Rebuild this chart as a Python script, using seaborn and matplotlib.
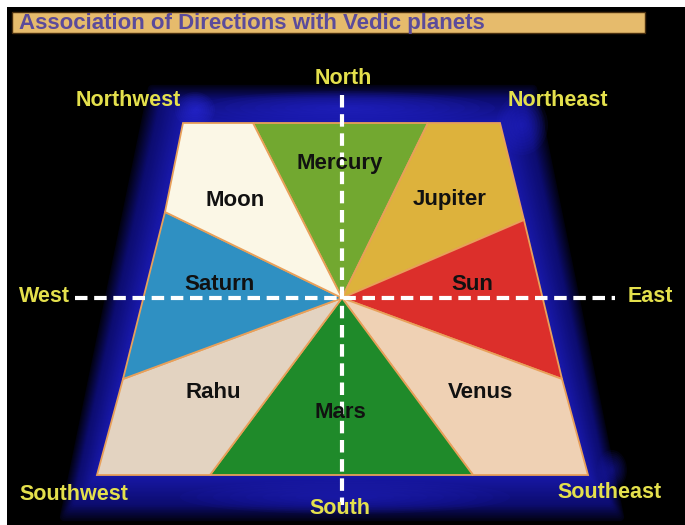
import numpy as np
import seaborn as sns
import matplotlib.pyplot as plt
from matplotlib.patches import Polygon, Rectangle, Ellipse
from matplotlib.colors import to_rgb

# Planets and the colour of the sector each one rules
planets = ["Mercury", "Jupiter", "Sun", "Venus", "Mars", "Rahu", "Saturn", "Moon"]
planet_colors = ["#72A830", "#DDB23C", "#DC2F2B", "#EFD1B4",
                 "#1F8A2A", "#E3D3C1", "#2F90C2", "#FBF7E6"]

directions = ["North", "Northeast", "East", "Southeast",
              "South", "Southwest", "West", "Northwest"]

title = "Association of Directions with Vedic planets"

# Geometry of the diagram (pixel-like coordinates, y grows downward)
centre = (342, 298)
ring_x = [183, 253, 428, 500, 524, 562, 588, 473, 210, 97, 123, 165]
ring_y = [123, 123, 123, 123, 220, 379, 475, 475, 475, 475, 379, 212]
sector_idx = [[1, 2], [2, 3, 4], [4, 5], [5, 6, 7], [7, 8], [8, 9, 10], [10, 11], [11, 0, 1]]
planet_x = [340, 450, 472, 480, 340, 213, 219, 235]
planet_y = [163, 200, 284, 392, 412, 392, 284, 200]
dir_x = [343, 558, 650, 609, 340, 74, 44, 128]
dir_y = [79, 100, 297, 493, 508, 495, 297, 100]

frame_x = [152, 533, 620, 64]
frame_y = [89, 89, 517, 517]
trap = [0, 3, 6, 9]

sns.set_theme(style="dark")
plt.rcParams['font.family'] = ['Liberation Sans', 'DejaVu Sans']

fig = plt.figure(figsize=(6.85, 5.25), dpi=100, facecolor="white")
ax = fig.add_axes([7 / 685, 0, 678 / 685, 518 / 525])
ax.set_xlim(7, 685)
ax.set_ylim(525, 7)
ax.set_axis_off()
ax.add_patch(Rectangle((0, 0), 700, 540, facecolor="black", edgecolor="none", zorder=0))

# Blue frame: nested polygons from the dark outside to the brighter inside
inner = np.array([[ring_x[i], ring_y[i]] for i in trap], dtype=float)
outer = np.column_stack([frame_x, frame_y]).astype(float)
dark = np.array(to_rgb("#020214"))
mid = np.array(to_rgb("#0c0c70"))
bright = np.array(to_rgb("#1818a8"))
n_layers = 30
for k in range(n_layers):
    t = k / (n_layers - 1)
    pts = outer * (1 - t) + inner * t
    if t < 0.35:
        col = dark + (mid - dark) * (t / 0.35)
    else:
        col = mid + (bright - mid) * ((t - 0.35) / 0.65)
    ax.add_patch(Polygon(pts, closed=True, facecolor=col, edgecolor=col,
                         linewidth=5 * (1 - t) + 1, joinstyle="round", zorder=1))

# soft glows on the frame (top band, corners, bottom band)
glows = [(345, 108, 300, 34, "#2a2ad8"), (195, 110, 40, 36, "#3030e8"),
         (522, 125, 52, 60, "#2626d0"), (345, 497, 330, 34, "#2222c0"),
         (612, 470, 30, 40, "#1c1cb0")]
for gx, gy, w, h, gc in glows:
    for k in range(10):
        s = 1 - k / 10
        ax.add_patch(Ellipse((gx, gy), w * s, h * s, facecolor=gc, edgecolor="none",
                             alpha=0.09, zorder=1.5))

# Planet sectors
for name, col, idx in zip(planets, planet_colors, sector_idx):
    pts = [centre] + [(ring_x[i], ring_y[i]) for i in idx]
    ax.add_patch(Polygon(pts, closed=True, facecolor=col, edgecolor="#E8A05A",
                         linewidth=1.3, zorder=2))

# Dashed direction axes
sns.lineplot(x=[75, 615], y=[298, 298], ax=ax, color="white", linewidth=3,
             sort=False, estimator=None, zorder=3)
sns.lineplot(x=[342, 342], y=[95, 505], ax=ax, color="white", linewidth=3,
             sort=False, estimator=None, orient="y", zorder=3)
for line in ax.lines:
    line.set_dashes([3.0, 1.6])
    line.set_dash_capstyle("butt")

for name, x, y in zip(planets, planet_x, planet_y):
    ax.text(x, y, name, ha="center", va="center", fontsize=16,
            fontweight="bold", color="#111111", zorder=4)

for name, x, y in zip(directions, dir_x, dir_y):
    ax.text(x, y, name, ha="center", va="center", fontsize=15.5,
            fontweight="bold", color="#E4E04C", zorder=4)

# Title bar
ax.add_patch(Rectangle((12, 12), 633, 21, facecolor="#E6BB6C",
                       edgecolor="#4a3010", linewidth=1, zorder=4))
ax.text(19, 23, title, ha="left", va="center", fontsize=16,
        fontweight="bold", color="#5B4B9B", zorder=5)

fig.savefig("out.png", dpi=100, facecolor=fig.get_facecolor())
